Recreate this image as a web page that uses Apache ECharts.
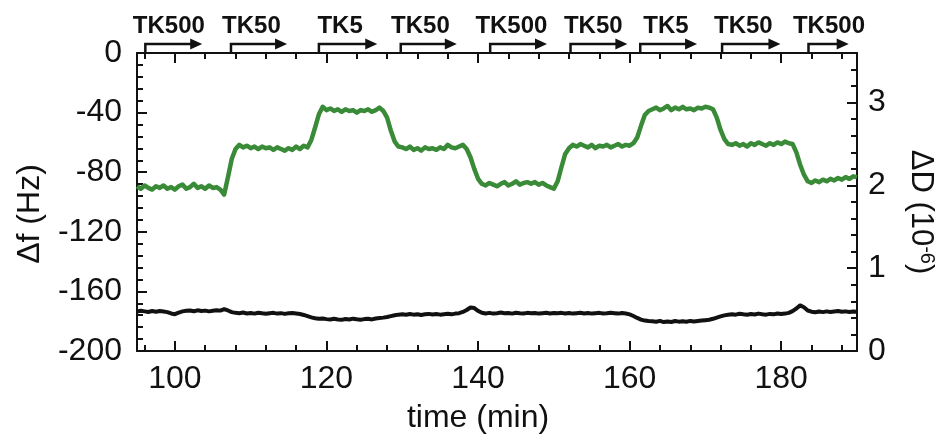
<!DOCTYPE html>
<html>
<head>
<meta charset="utf-8">
<script src="https://cdn.jsdelivr.net/npm/echarts@6/dist/echarts.min.js"></script>
<style>
html,body{margin:0;padding:0;background:#fff;}
#chart{width:938px;height:443px;}
</style>
</head>
<body>
<div id="chart"></div>
<script>
// ---- data ----
const times = [
  95,95.5,96,96.5,97,97.5,98,98.5,99,99.5,
  100,100.5,101,101.5,102,102.5,103,103.5,104,104.5,
  105,105.5,106,106.5,107,107.5,108,108.5,109,109.5,
  110,110.5,111,111.5,112,112.5,113,113.5,114,114.5,
  115,115.5,116,116.5,117,117.5,118,118.5,119,119.5,
  120,120.5,121,121.5,122,122.5,123,123.5,124,124.5,
  125,125.5,126,126.5,127,127.5,128,128.5,129,129.5,
  130,130.5,131,131.5,132,132.5,133,133.5,134,134.5,
  135,135.5,136,136.5,137,137.5,138,138.5,139,139.5,
  140,140.5,141,141.5,142,142.5,143,143.5,144,144.5,
  145,145.5,146,146.5,147,147.5,148,148.5,149,149.5,
  150,150.5,151,151.5,152,152.5,153,153.5,154,154.5,
  155,155.5,156,156.5,157,157.5,158,158.5,159,159.5,
  160,160.5,161,161.5,162,162.5,163,163.5,164,164.5,
  165,165.5,166,166.5,167,167.5,168,168.5,169,169.5,
  170,170.5,171,171.5,172,172.5,173,173.5,174,174.5,
  175,175.5,176,176.5,177,177.5,178,178.5,179,179.5,
  180,180.5,181,181.5,182,182.5,183,183.5,184,184.5,
  185,185.5,186,186.5,187,187.5,188,188.5,189,189.5,
  190
];

// ΔD (10^-6), right axis (green)
const dissipation = [
  1.99,1.96,2.00,1.97,1.95,1.99,1.97,2.00,1.96,1.98,1.95,1.99,2.01,1.96,1.98,2.02,1.97,1.99,1.96,2.00,1.97,1.98,1.95,
  1.89,2.10,2.32,2.44,
  2.49,2.46,2.48,2.45,2.47,2.44,2.47,2.45,2.46,2.43,2.46,2.44,2.42,2.45,2.43,2.47,2.44,2.48,2.46,
  2.55,2.70,2.86,2.95,
  2.91,2.93,2.90,2.92,2.89,2.92,2.90,2.91,2.88,2.91,2.90,2.92,2.89,2.91,2.94,2.90,
  2.82,2.66,2.53,2.47,
  2.46,2.44,2.47,2.43,2.45,2.42,2.46,2.44,2.45,2.43,2.46,2.44,2.49,2.46,2.45,2.47,2.49,2.44,
  2.34,2.20,2.08,2.02,
  2.00,2.03,2.01,1.99,2.02,2.04,2.00,2.02,2.05,2.01,2.03,2.04,2.02,2.04,2.01,2.03,2.00,1.98,1.96,
  2.05,2.22,2.38,2.45,
  2.49,2.47,2.50,2.48,2.46,2.49,2.45,2.48,2.47,2.49,2.46,2.48,2.50,2.47,2.49,2.48,2.51,
  2.58,2.72,2.85,2.90,
  2.92,2.94,2.91,2.93,2.96,2.91,2.94,2.92,2.95,2.92,2.93,2.91,2.94,2.93,2.95,2.94,2.92,
  2.82,2.67,2.56,2.50,
  2.49,2.51,2.48,2.50,2.47,2.51,2.49,2.52,2.50,2.48,2.51,2.49,2.52,2.50,2.53,2.51,2.50,
  2.40,2.25,2.13,2.05,
  2.03,2.06,2.04,2.07,2.05,2.08,2.06,2.09,2.07,2.10,2.08,2.11,2.10
];

// Δf (Hz), left axis (black)
const frequency = [
  -173.5,-173.0,-173.4,-173.8,-173.2,-173.6,-173.1,-173.5,-173.9,-174.8,-175.3,-174.2,-173.4,-173.0,-172.8,-173.3,-172.7,-173.1,-172.9,-173.4,-173.0,-172.6,-172.9,
  -171.9,-172.8,-173.9,-174.4,
  -174.6,-174.2,-174.8,-174.5,-174.9,-174.3,-174.7,-175.0,-174.6,-174.4,-174.9,-174.6,-175.1,-174.7,-174.5,-174.8,-175.2,-175.8,-176.6,
  -177.4,-178.0,-178.4,-178.2,
  -178.6,-178.9,-178.4,-178.8,-179.1,-178.5,-178.9,-178.3,-178.7,-179.0,-178.6,-178.4,-178.8,-178.2,-177.9,-177.6,
  -177.2,-176.6,-176.0,-175.6,
  -175.4,-175.7,-175.2,-175.6,-175.3,-175.8,-175.4,-175.1,-175.5,-175.2,-175.6,-175.3,-175.0,-175.4,-174.9,-174.6,-173.8,-172.5,
  -170.8,-171.2,-173.1,-174.3,
  -174.8,-174.4,-174.9,-174.6,-174.2,-174.7,-174.5,-174.9,-174.3,-174.6,-174.8,-174.4,-174.7,-174.5,-174.9,-174.6,-174.3,-174.8,-174.5,
  -174.7,-174.4,-174.8,-174.5,
  -174.9,-174.6,-174.3,-174.8,-174.5,-174.9,-174.6,-174.4,-174.8,-174.7,-174.3,-174.6,-174.9,-174.5,-174.8,-175.4,-176.5,
  -177.8,-178.9,-179.6,-179.9,
  -180.1,-180.4,-179.8,-180.6,-180.2,-180.5,-179.9,-180.3,-180.0,-180.4,-179.8,-180.2,-179.9,-179.6,-179.3,-179.0,-178.4,
  -177.6,-176.8,-176.1,-175.7,
  -175.3,-175.6,-175.0,-175.4,-175.7,-175.2,-175.5,-174.9,-175.3,-175.6,-175.1,-175.4,-174.8,-175.2,-174.9,-174.4,-173.2,
  -171.5,-169.4,-170.6,-172.8,
  -173.6,-174.0,-173.5,-173.9,-173.4,-173.8,-173.5,-173.2,-173.7,-173.4,-173.8,-173.5,-173.6
];

// solution-exchange annotations (time, min)
const stepLabels = ['TK500','TK50','TK5','TK50','TK500','TK50','TK5','TK50','TK500'];
const stepStart  = [96.1, 107.4, 119.0, 129.8, 141.6, 152.2, 161.4, 172.2, 183.6];
const stepEnd    = [103.6, 114.8, 126.7, 137.2, 149.1, 159.7, 168.9, 179.9, 188.9];
const stepLabelCenter = [99.2, 110.1, 121.8, 132.4, 144.4, 155.2, 164.8, 175.0, 186.3];

// tick values
const xMajorTicks = [100, 120, 140, 160, 180];
const xMinorTicks = [96, 104, 108, 112, 116, 124, 128, 132, 136, 144, 148, 152, 156, 164, 168, 172, 176, 184, 188];
const rightMajorTicks = [0, 1, 2, 3];
const rightMinorTicks = [0.2, 0.4, 0.6, 0.8, 1.2, 1.4, 1.6, 1.8, 2.2, 2.4, 2.6, 2.8, 3.2, 3.4];

if (times.length !== dissipation.length || times.length !== frequency.length) {
  throw new Error('length mismatch ' + times.length + ' ' + dissipation.length + ' ' + frequency.length);
}

// ---- chart ----
const INK = '#111111';
const GREEN = '#3a8b37';
const FONT = '"Liberation Sans", Arial, sans-serif';

const chart = echarts.init(document.getElementById('chart'), null, {renderer: 'canvas'});

function xAxisBase(pos, ticks, len, showLine) {
  return {
    type: 'value', min: 95, max: 190, position: pos,
    axisLine: {show: showLine, onZero: false, lineStyle: {color: INK, width: 2}},
    axisTick: {show: true, inside: true, length: len, customValues: ticks, lineStyle: {color: INK, width: 2}},
    axisLabel: {show: false},
    splitLine: {show: false}
  };
}

const xAxes = [
  xAxisBase('bottom', xMajorTicks, 10, true),
  xAxisBase('bottom', xMinorTicks, 6, false),
  xAxisBase('top', xMajorTicks, 10, true),
  xAxisBase('top', xMinorTicks, 6, false)
];
xAxes[0].axisLabel = {
  show: true, customValues: xMajorTicks, margin: 12,
  color: INK, fontSize: 32, fontFamily: FONT
};

const option = {
  animation: false,
  backgroundColor: '#ffffff',
  grid: {left: 137, right: 81, top: 53, bottom: 92, containLabel: false, outerBoundsMode: 'none'},
  xAxis: xAxes,
  yAxis: [
    {
      type: 'value', min: -200, max: 0, interval: 40, position: 'left',
      axisLine: {show: true, onZero: false, lineStyle: {color: INK, width: 2}},
      axisTick: {show: true, inside: true, length: 10, lineStyle: {color: INK, width: 2}},
      minorTick: {show: true, splitNumber: 5, length: 6, lineStyle: {color: INK, width: 2}},
      axisLabel: {color: INK, fontSize: 32, fontFamily: FONT, margin: 15},
      splitLine: {show: false}
    },
    {
      type: 'value', min: 0, max: 3.6, position: 'right',
      axisLine: {show: true, onZero: false, lineStyle: {color: INK, width: 2}},
      axisTick: {show: true, inside: true, length: 10, customValues: rightMajorTicks, lineStyle: {color: INK, width: 2}},
      axisLabel: {show: true, customValues: rightMajorTicks, color: INK, fontSize: 32, fontFamily: FONT, margin: 11},
      splitLine: {show: false}
    },
    {
      type: 'value', min: 0, max: 3.6, position: 'right',
      axisLine: {show: false},
      axisTick: {show: true, inside: true, length: 6, customValues: rightMinorTicks, lineStyle: {color: INK, width: 2}},
      axisLabel: {show: false},
      splitLine: {show: false}
    }
  ],
  graphic: [
    {type: 'text', x: 30, y: 214, rotation: Math.PI / 2,
     style: {text: 'Δf (Hz)', fill: INK, font: '32px ' + FONT, align: 'center', verticalAlign: 'middle'}},
    {type: 'text', x: 921, y: 212, rotation: -Math.PI / 2,
     style: {text: '{a|ΔD (10}{s|-6}{a|)}', align: 'center', verticalAlign: 'middle',
       rich: {a: {fill: INK, fontSize: 31, fontFamily: FONT, verticalAlign: 'bottom'},
              s: {fill: INK, fontSize: 20, fontFamily: FONT, verticalAlign: 'top'}}}},
    {type: 'text', x: 478, y: 418,
     style: {text: 'time (min)', fill: INK, font: '32px ' + FONT, align: 'center', verticalAlign: 'middle'}}
  ],
  series: [
    {
      name: 'ΔD', type: 'line', xAxisIndex: 0, yAxisIndex: 1,
      data: times.map((t, i) => [t, dissipation[i]]),
      showSymbol: false, symbol: 'none',
      lineStyle: {color: GREEN, width: 4.5, join: 'round'}, z: 3
    },
    {
      name: 'Δf', type: 'line', xAxisIndex: 0, yAxisIndex: 0,
      data: times.map((t, i) => [t, frequency[i]]),
      showSymbol: false, symbol: 'none',
      lineStyle: {color: INK, width: 4, join: 'round'}, z: 4
    },
    {
      name: 'steps', type: 'custom', xAxisIndex: 0, yAxisIndex: 0, clip: false, z: 10,
      data: stepStart.map((s, i) => [s, stepEnd[i], stepLabelCenter[i], 0]),
      encode: {x: [0, 1, 2], y: 3},
      renderItem: function (params, api) {
        const xs = api.coord([api.value(0), 0])[0];
        const xe = api.coord([api.value(1), 0])[0];
        const xc = api.coord([api.value(2), 0])[0];
        const top = params.coordSys.y;
        const yl = top - 9;
        return {
          type: 'group',
          children: [
            {type: 'polyline', shape: {points: [[xs, top], [xs, yl], [xe - 8, yl]]},
             style: {stroke: INK, lineWidth: 2.5, fill: null}},
            {type: 'polygon', shape: {points: [[xe - 12, yl - 5.5], [xe, yl], [xe - 12, yl + 5.5]]},
             style: {fill: INK}},
            {type: 'text', x: xc, y: top - 27,
             style: {text: stepLabels[params.dataIndex], fill: INK, font: 'bold 24px ' + FONT,
                     align: 'center', verticalAlign: 'middle'}}
          ]
        };
      }
    }
  ]
};

chart.setOption(option);
</script>
</body>
</html>
